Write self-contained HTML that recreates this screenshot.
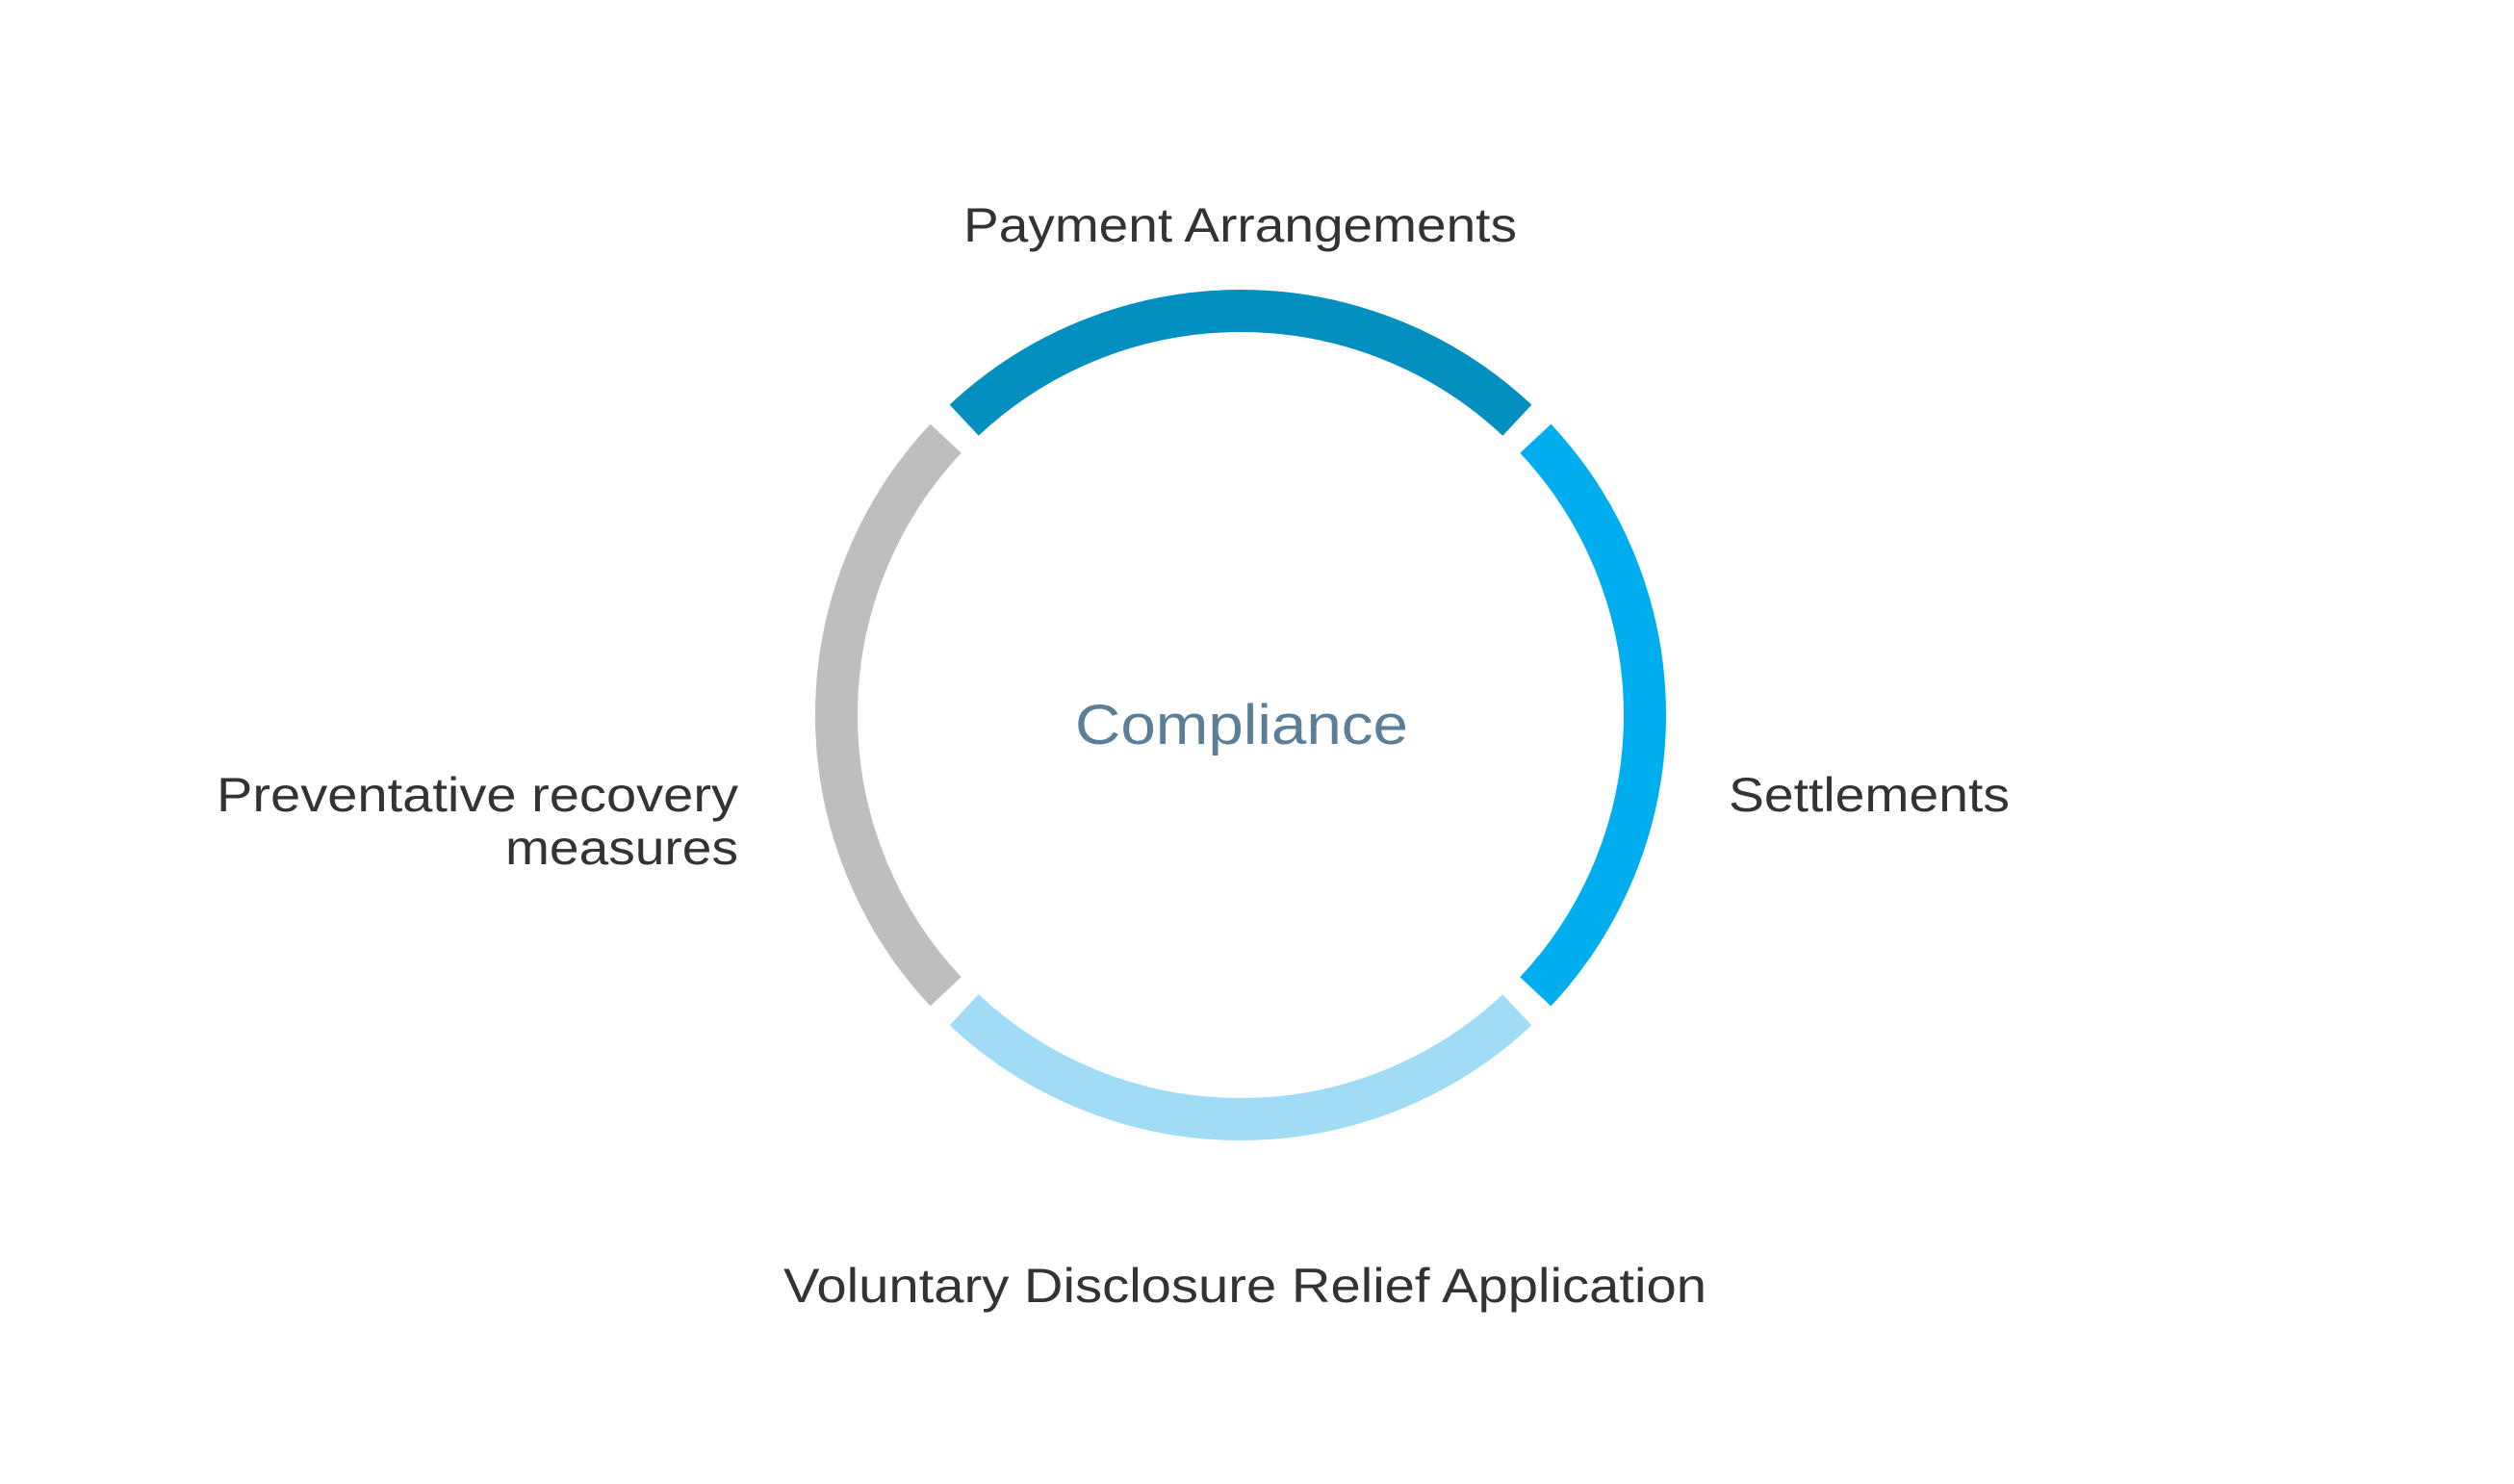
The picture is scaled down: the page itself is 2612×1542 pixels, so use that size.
<!DOCTYPE html>
<html><head><meta charset="utf-8"><style>
html,body{margin:0;padding:0;background:#fff;}
svg{display:block;}
text{font-family:"Liberation Sans",Arial,sans-serif;fill:#333;}
</style></head><body>
<svg width="2612" height="1542" viewBox="0 0 2612 1542" xmlns="http://www.w3.org/2000/svg">
<rect width="2612" height="1542" fill="#fff"/>
<g fill="none" stroke-width="44">
<circle cx="1289" cy="743" r="420" stroke="#038fc0" stroke-dasharray="632.7 2006.2" transform="rotate(-133.16 1289 743)"/>
<circle cx="1289" cy="743" r="420" stroke="#00aeef" stroke-dasharray="632.7 2006.2" transform="rotate(-43.16 1289 743)"/>
<circle cx="1289" cy="743" r="420" stroke="#a1dcf7" stroke-dasharray="632.7 2006.2" transform="rotate(46.84 1289 743)"/>
<circle cx="1289" cy="743" r="420" stroke="#bdbec0" stroke-dasharray="632.7 2006.2" transform="rotate(136.84 1289 743)"/>
</g>
<text x="1001" y="251" font-size="50" textLength="575" lengthAdjust="spacingAndGlyphs">Payment Arrangements</text>
<text x="1796" y="843" font-size="50" textLength="292" lengthAdjust="spacingAndGlyphs">Settlements</text>
<text x="225" y="843" font-size="50" textLength="542" lengthAdjust="spacingAndGlyphs">Preventative recovery</text>
<text x="525" y="898" font-size="50" textLength="242" lengthAdjust="spacingAndGlyphs">measures</text>
<text x="814" y="1353" font-size="50" textLength="959" lengthAdjust="spacingAndGlyphs">Voluntary Disclosure Relief Application</text>
<text x="1117" y="773" font-size="58" textLength="346" lengthAdjust="spacingAndGlyphs" style="fill:#5b7f99">Compliance</text>
</svg>
</body></html>
